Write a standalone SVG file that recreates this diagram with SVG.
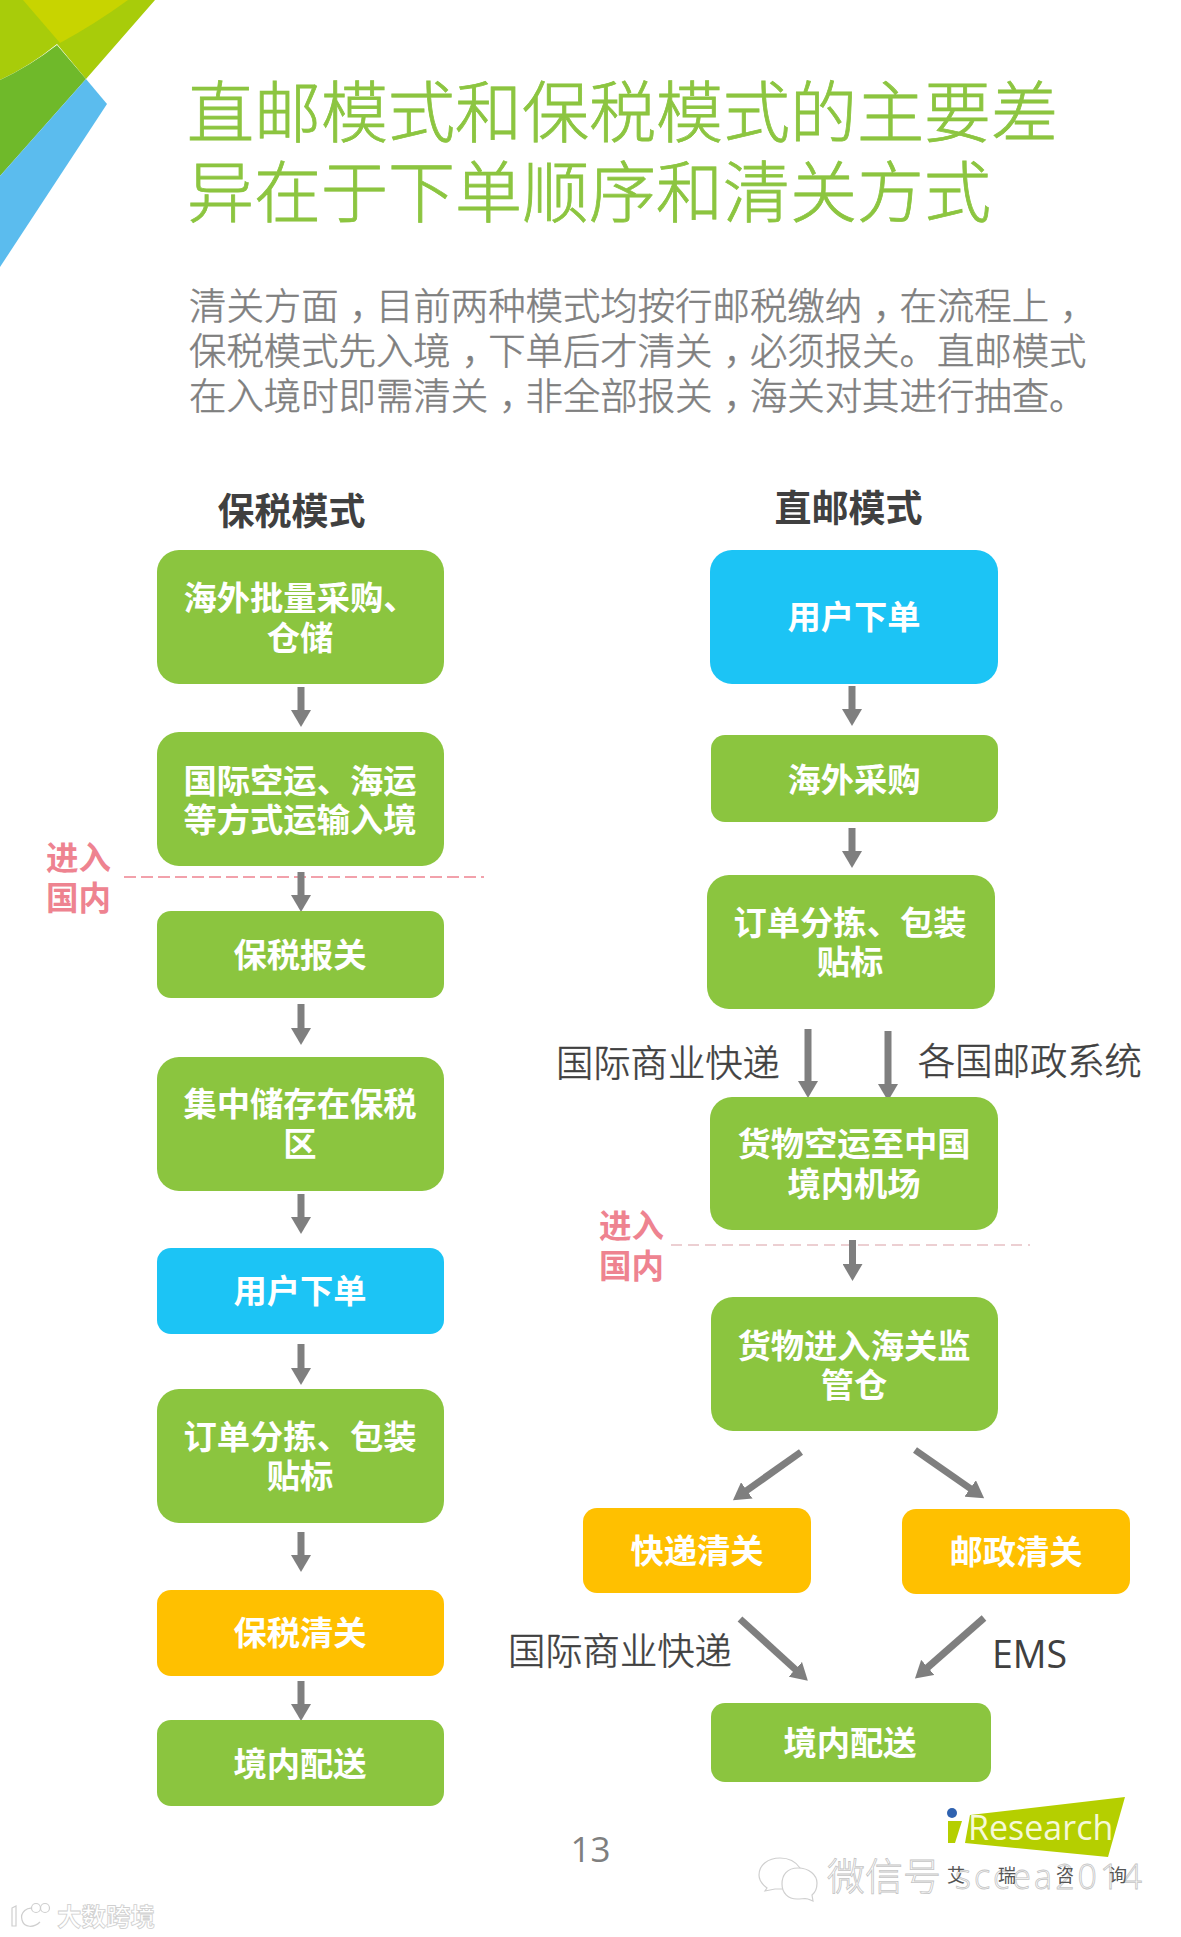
<svg xmlns="http://www.w3.org/2000/svg" width="1181" height="1937" viewBox="0 0 1181 1937">
<defs>
<style>
text{font-family:"Noto Sans CJK SC","Noto Sans",sans-serif}
.t{font-size:67px;font-weight:300;fill:#8cc540;stroke:#8cc540;stroke-width:.8}
.b{font-size:37.4px;font-weight:300;fill:#7f7f7f;stroke:#7f7f7f;stroke-width:.5}
.h{font-size:37px;font-weight:700;fill:#404040;text-anchor:middle}
.n{font-size:33.3px;font-weight:700;fill:#fff;text-anchor:middle}
.p{font-size:32.5px;font-weight:700;fill:#ee8390}
.s{font-size:37.3px;font-weight:300;fill:#404040;stroke:#404040;stroke-width:.5}
.g{fill:#8bc53f}.u{fill:#1cc4f5}.o{fill:#ffc000}
.a{stroke:#7f7f7f;stroke-width:7;fill:none;marker-end:url(#ah)}
.w{fill:#fff;stroke:#c4c4c4;stroke-width:.8}
.i{fill:#fff;stroke:#cfcfcf;stroke-width:1.2}
</style>
<marker id="ah" markerUnits="userSpaceOnUse" markerWidth="20" markerHeight="20" refX="1" refY="10" orient="auto"><path d="M0,0L17,10L0,20Z" fill="#7f7f7f"/></marker>
</defs>
<rect width="1181" height="1937" fill="#fff"/>
<g id="corner">
<path d="M0,0H155L86,79L57,44Q30,66 0,80Z" fill="#a8cc0a"/>
<path d="M23,0H128Q95,24 60,43Z" fill="#c8d400"/>
<path d="M57,45L86,79L0,176V80Q30,66 57,45Z" fill="#6fb92a"/>
<path d="M86,79L107,104L0,267V176Z" fill="#5bbcee"/>
</g>
<g id="title">
<text class="t" x="187" y="137">直邮模式和保税模式的主要差</text>
<text class="t" x="187" y="217">异在于下单顺序和清关方式</text>
</g>
<g id="intro">
<text class="b" x="189" y="320">清关方面<tspan dx="11">，</tspan><tspan dx="-11">目前两种模式均按行邮税缴纳</tspan><tspan dx="11">，</tspan><tspan dx="-11">在流程上</tspan><tspan dx="11">，</tspan></text>
<text class="b" x="189" y="365">保税模式先入境<tspan dx="11">，</tspan><tspan dx="-11">下单后才清关</tspan><tspan dx="11">，</tspan><tspan dx="-11">必须报关。直邮模式</tspan></text>
<text class="b" x="189" y="410">在入境时即需清关<tspan dx="11">，</tspan><tspan dx="-11">非全部报关</tspan><tspan dx="11">，</tspan><tspan dx="-11">海关对其进行抽查。</tspan></text>
</g>
<text class="h" x="291.500" y="525">保税模式</text>
<text class="h" x="848.500" y="522">直邮模式</text>

<g id="dividers">
<line x1="124" y1="877" x2="484" y2="877" stroke="#ee8390" stroke-width="1.6" stroke-dasharray="12 5"/>
<line x1="671" y1="1245" x2="1030" y2="1245" stroke="#d9a0a5" stroke-width="1.2" stroke-dasharray="11 6"/>
</g>
<g id="connectors">
<path class="a" d="M301,687V711"/>
<path class="a" d="M301,872V896"/>
<path class="a" d="M301,1004V1029"/>
<path class="a" d="M301,1194V1218"/>
<path class="a" d="M301,1344V1369"/>
<path class="a" d="M301,1532V1556"/>
<path class="a" d="M301,1681V1705"/>
<path class="a" d="M852,686V710"/>
<path class="a" d="M852,828V852"/>
<path class="a" d="M808,1029V1082"/>
<path class="a" d="M888,1031V1085"/>
<path class="a" d="M852.500,1240V1265"/>
<path class="a" d="M801,1452L746,1491"/>
<path class="a" d="M915,1450L971,1489"/>
<path class="a" d="M740,1619L796,1670"/>
<path class="a" d="M984,1618L927,1668"/>
</g>

<g id="n-l1"><rect class="g" x="157" y="550" width="287" height="134" rx="22"/><text class="n" x="300" y="610">海外批量采购、</text><text class="n" x="300" y="650">仓储</text></g>
<g id="n-l2"><rect class="g" x="157" y="732" width="287" height="134" rx="22"/><text class="n" x="300" y="793">国际空运、海运</text><text class="n" x="300" y="832">等方式运输入境</text></g>
<g id="n-l3"><rect class="g" x="157" y="911" width="287" height="87" rx="14"/><text class="n" x="300" y="967">保税报关</text></g>
<g id="n-l4"><rect class="g" x="157" y="1057" width="287" height="134" rx="22"/><text class="n" x="300" y="1116">集中储存在保税</text><text class="n" x="300" y="1156">区</text></g>
<g id="n-l5"><rect class="u" x="157" y="1248" width="287" height="86" rx="14"/><text class="n" x="300" y="1303">用户下单</text></g>
<g id="n-l6"><rect class="g" x="157" y="1389" width="287" height="134" rx="22"/><text class="n" x="300" y="1449">订单分拣、包装</text><text class="n" x="300" y="1488">贴标</text></g>
<g id="n-l7"><rect class="o" x="157" y="1590" width="287" height="86" rx="14"/><text class="n" x="300" y="1645">保税清关</text></g>
<g id="n-l8"><rect class="g" x="157" y="1720" width="287" height="86" rx="14"/><text class="n" x="300" y="1776">境内配送</text></g>

<g id="n-r1"><rect class="u" x="710" y="550" width="288" height="134" rx="22"/><text class="n" x="854" y="629">用户下单</text></g>
<g id="n-r2"><rect class="g" x="711" y="735" width="287" height="87" rx="14"/><text class="n" x="854" y="792">海外采购</text></g>
<g id="n-r3"><rect class="g" x="707" y="875" width="288" height="134" rx="22"/><text class="n" x="850" y="935">订单分拣、包装</text><text class="n" x="850" y="974">贴标</text></g>
<g id="n-r4"><rect class="g" x="710" y="1097" width="288" height="133" rx="22"/><text class="n" x="854" y="1156">货物空运至中国</text><text class="n" x="854" y="1196">境内机场</text></g>
<g id="n-r5"><rect class="g" x="711" y="1297" width="287" height="134" rx="22"/><text class="n" x="854" y="1358">货物进入海关监</text><text class="n" x="854" y="1397">管仓</text></g>
<g id="n-r6"><rect class="o" x="583" y="1508" width="228" height="85" rx="14"/><text class="n" x="697" y="1563">快递清关</text></g>
<g id="n-r7"><rect class="o" x="902" y="1509" width="228" height="85" rx="14"/><text class="n" x="1016" y="1564">邮政清关</text></g>
<g id="n-r8"><rect class="g" x="711" y="1703" width="280" height="79" rx="14"/><text class="n" x="850" y="1755">境内配送</text></g>

<g id="labels">
<text class="p" x="46" y="870">进入</text><text class="p" x="46" y="910">国内</text>
<text class="p" x="599" y="1238">进入</text><text class="p" x="599" y="1278">国内</text>
<text class="s" x="556" y="1077">国际商业快递</text>
<text class="s" x="918" y="1075">各国邮政系统</text>
<text class="s" x="508" y="1665">国际商业快递</text>
<text x="992" y="1668" style="font-family:'Open Sans',sans-serif;font-size:37.500px;fill:#404040">EMS</text>
<text x="590.500" y="1862" text-anchor="middle" style="font-family:'Open Sans',sans-serif;font-size:35px;fill:#7f7f7f">13</text>
</g>
<g id="logo">
<circle cx="952" cy="1813" r="5" fill="#2f62b0"/>
<path d="M948,1821H962L955,1843H948Z" fill="#b5cf00"/>
<path d="M970,1815L1125,1797L1108,1857L965,1843Z" fill="#b5cf00"/>
<text x="968" y="1840" style="font-family:'Open Sans',sans-serif;font-size:34px;fill:#f6f9d8">Research</text>
</g>
<g id="watermark">
<path class="i" d="M780,1858C768,1858 759,1865 759,1875C759,1881 763,1885 767,1888L765,1891L775,1889L790,1889L800,1868C796,1862 789,1858 780,1858Z"/>
<path class="i" d="M798,1868C787,1868 782,1875 782,1884C782,1893 788,1899 797,1899C802,1899 806,1898 808,1899L813,1901L812,1895C816,1892 817,1888 817,1883C817,1875 809,1868 798,1868Z"/>
<text class="w" x="827" y="1890" style="font-size:38px;font-weight:300">微信号</text>
<text class="w" x="955" y="1889" textLength="187" style="font-family:'Open Sans',sans-serif;font-size:34px;font-weight:300">sccea2014</text>
<text x="956" y="1882" text-anchor="middle" style="font-size:18px;fill:#555">艾</text>
<text x="1007" y="1882" text-anchor="middle" style="font-size:18px;fill:#555">瑞</text>
<text x="1065" y="1882" text-anchor="middle" style="font-size:18px;fill:#555">咨</text>
<text x="1118" y="1882" text-anchor="middle" style="font-size:18px;fill:#555">询</text>
</g>
<g id="watermark2">
<path class="i" d="M12,1908L16,1906V1926H12ZM38,1910C26,1904 20,1914 22,1920C24,1928 34,1928 40,1922"/>
<circle class="i" cx="36" cy="1908" r="4.500"/><circle class="i" cx="45" cy="1908" r="4.500"/>
<text class="w" x="57" y="1926" style="font-size:24.500px;font-weight:700;stroke:#cfcfcf">大数跨境</text>
</g>
</svg>
